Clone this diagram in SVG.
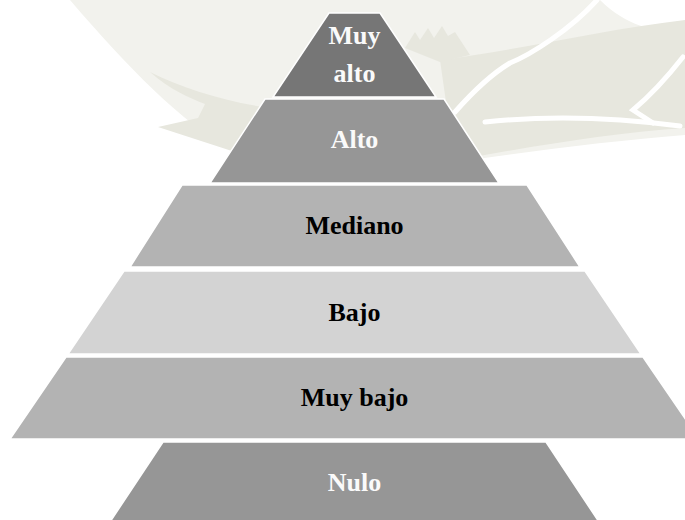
<svg xmlns="http://www.w3.org/2000/svg" width="685" height="520" viewBox="0 0 685 520">
  <style>
    .tier { stroke: #ffffff; stroke-width: 1.5; stroke-linejoin: miter; }
    .lbl { font-family: "Liberation Serif", "Times New Roman", serif; font-weight: bold; font-size: 26px; text-anchor: middle; }
    .light { fill: #fafafa; }
    .dark { fill: #000000; }
    .wm { fill: #e7e7de; }
    .wm2 { fill: #f2f2ed; }
    .wmline { fill: none; stroke: #ffffff; stroke-width: 5; stroke-linecap: round; }
  </style>

  <rect x="0" y="0" width="685" height="520" fill="#ffffff"/>

  <!-- faint seal in the background -->
  <g id="background-seal">
    <path class="wm2" d="M 70,0 L 600,0 C 640,40 685,30 685,30 L 685,135 C 620,140 540,150 470,160 L 300,160 L 230,150 C 180,120 130,70 70,0 Z"/>
    <path class="wm" d="M 150,72 C 170,90 190,98 205,104 L 198,118 L 158,127 L 235,152 L 300,152 L 300,112 C 240,106 190,92 150,72 Z"/>
    <path class="wm" d="M 440,60 C 520,50 600,30 685,20 L 685,128 C 620,132 540,145 468,158 L 450,130 Z"/>
    <path class="wm" d="M 405,48 L 415,32 L 420,40 L 428,28 L 434,38 L 442,26 L 448,36 L 455,32 L 470,55 L 440,62 Z"/>
    <path class="wm2" d="M 375,0 L 463,0 L 463,18 L 375,18 Z"/>
    <path class="wmline" d="M 597,0 C 570,30 530,55 510,63 C 490,75 470,95 455,112"/>
    <path class="wmline" d="M 683,57 C 665,80 645,100 633,110 L 653,123"/>
    <path class="wmline" d="M 485,122 C 550,115 620,118 680,126"/>
  </g>

  <!-- pyramid tiers, top to bottom -->
  <g id="tier-muy-alto">
    <polygon class="tier" fill="#767676" points="329,13 380,13 436,97 273,97"/>
    <text class="lbl light" x="354.5" y="44">Muy</text>
    <text class="lbl light" x="354.5" y="82">alto</text>
  </g>
  <g id="tier-alto">
    <polygon class="tier" fill="#969696" points="265,99 444,99 499,183 210,183"/>
    <text class="lbl light" x="354.5" y="148">Alto</text>
  </g>
  <g id="tier-mediano">
    <polygon class="tier" fill="#b3b3b3" points="182,185 527,185 580,267 130,267"/>
    <text class="lbl dark" x="354.5" y="234">Mediano</text>
  </g>
  <g id="tier-bajo">
    <polygon class="tier" fill="#d3d3d3" points="124,271 585,271 641,354 68,354"/>
    <text class="lbl dark" x="354.5" y="321">Bajo</text>
  </g>
  <g id="tier-muy-bajo">
    <polygon class="tier" fill="#b3b3b3" points="66,357 643,357 699,439 10,439"/>
    <text class="lbl dark" x="354.5" y="406">Muy bajo</text>
  </g>
  <g id="tier-nulo">
    <polygon class="tier" fill="#969696" points="163,442 546,442 601,525 108,525"/>
    <text class="lbl light" x="354.5" y="491">Nulo</text>
  </g>

  <g id="connectors"/>
</svg>
